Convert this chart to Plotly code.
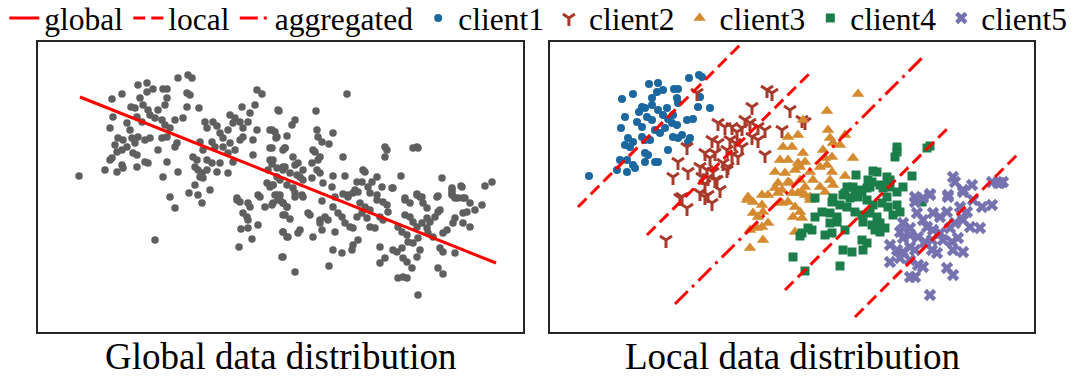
import plotly.graph_objects as go

# ---------------- data ----------------
global_pts = [
(79,176),(112,99),(122,94),(138,85),(147,83),(147,92),(153,89),(163,89),(167,89),(178,78),(188,75),(192,78),(187,93),(190,95),(140,98),(131,107),(135,108),(143,105),(148,110),(167,98),(165,105),(158,110),(187,107),(199,108),(113,117),(110,128),(127,123),(130,130),(137,117),(142,122),(150,115),(155,118),(162,120),(165,125),(170,128),(175,120),(183,118),(118,138),(115,145),(123,140),(127,147),(122,150),(132,138),(135,143),(138,137),(145,140),(150,138),(162,138),(167,137),(177,143),(175,147),(112,158),(110,160),(117,152),(133,153),(137,155),(158,150),(105,170),(117,172),(122,165),(123,168),(137,167),(145,162),(148,163),(167,162),(178,172),(163,177),(193,157),(197,160),(195,167),(198,170),(202,173),(203,178),(200,177),(205,122),(213,122),(207,128),(217,126),(220,133),(223,138),(228,130),(230,115),(235,118),(233,123),(240,122),(243,128),(248,122),(242,107),(250,113),(257,90),(262,94),(255,105),(257,130),(253,140),(200,142),(203,150),(212,142),(215,147),(223,147),(228,153),(230,143),(235,150),(240,140),(243,137),(233,162),(220,163),(207,160),(212,163),(228,173),(217,172),(207,170),(253,155),(195,185),(210,190),(189,193),(198,195),(170,197),(270,130),(277,137),(278,110),(270,148),(273,160),(268,170),(277,168),(283,167),(267,183),(270,187),(258,195),(277,195),(237,198),(285,148),
(175,208),(155,240),(202,203),(237,200),(240,202),(248,203),(250,207),(243,213),(247,217),(248,220),(241,229),(248,228),(258,225),(252,239),(239,247),(260,197),(273,185),(265,207),(272,205),(278,200),(283,203),(287,207),(285,215),(283,232),(287,237),(282,257),
(347,94),(279,111),(316,111),(295,120),(292,125),(272,130),(275,132),(276,138),(287,136),(317,130),(333,133),(318,137),(322,142),(329,144),(272,148),(285,148),(283,150),(313,150),(315,152),(320,157),(318,160),(312,163),(293,157),(295,165),(298,163),(343,157),(270,160),(272,164),(285,167),(283,170),(303,170),(317,170),(320,173),(290,173),(297,175),(300,177),(303,180),(312,178),(280,180),(277,177),(273,185),(287,185),(293,188),(323,183),(333,176),(332,187),(345,176),(280,195),(295,197),(302,195),(335,197),(343,194),(348,197),(355,190),(357,182),(362,182),(363,170),(365,172),(368,187),(372,182),(377,177),(370,193),(377,195),(382,187),(393,188),(385,147),(387,150),(385,157),(401,176),(413,148),(417,147),(418,148),(405,198),(417,194),(420,197),(442,178),(438,196),(452,188),(452,195),(461,186),(458,198),(463,198),(485,186),(492,182),
(283,257),(295,272),(329,266),(333,250),(342,253),(352,250),(353,245),(358,240),(313,237),(322,230),(320,223),(335,232),(283,232),(288,237),(300,230),(298,233),(308,213),(310,215),(283,215),(290,219),(280,200),(283,203),(287,207),(273,203),(275,195),(295,193),(303,197),(322,201),(320,220),(325,217),(328,220),(333,207),(338,213),(342,217),(345,223),(350,227),(353,228),(348,195),(353,193),(358,192),(360,203),(365,207),(370,210),(357,217),(362,213),(367,218),(370,227),(375,228),(380,217),(383,220),(388,212),(377,200),(383,202),(387,205),(392,188),(380,247),(380,263),(385,258),(393,250),(397,252),(402,248),(403,258),(407,262),(398,278),(403,277),(407,278),(412,268),(418,295),(405,215),(410,217),(398,227),(402,232),(407,235),(408,242),(413,243),(418,238),(417,257),(420,250),(413,222),(417,227),(422,223),(417,195),(422,197),(405,200),(410,203),(423,203),(427,208),(427,218),(430,222),(435,217),(427,228),(428,233),(433,237),(438,212),(440,210),(437,197),(438,268),(443,274),(440,248),(443,252),(452,193),(452,190),(453,223),(455,218),(455,253),(447,230),(443,233),(463,213),(467,212),(463,223),(470,227),(470,203),(475,210),(465,198),(482,205),(462,187),(455,198)
]

client1_pts = [(589,176),(622,99),(633,94),(649,84),(658,83),(657,92),(663,90),(674,89),(678,89),(689,78),(699,75),(702,77),(700,97),(652,98),(642,107),(645,108),(652,105),(658,110),(677,98),(678,103),(698,107),(710,108),(625,117),(621,128),(637,122),(642,127),(647,117),(652,120),(663,115),(668,119),(673,115),(687,120),(693,119),(628,138),(633,142),(625,145),(630,147),(642,137),(645,140),(650,140),(655,130),(660,133),(665,128),(673,137),(678,138),(682,135),(690,138),(688,142),(645,153),(648,155),(668,150),(620,160),(627,160),(633,165),(635,168),(645,162),(655,162),(658,162),(627,172),(617,170),(672,123),(677,125),(667,108),(639,112)]

client2_pts = [(697,93),(767,90),(772,93),(752,107),(790,110),(802,120),(805,122),(718,123),(725,127),(732,127),(737,132),(742,128),(745,120),(750,123),(758,127),(765,130),(782,130),(712,140),(718,143),(730,140),(735,143),(742,147),(752,137),(758,140),(705,153),(710,158),(715,153),(727,150),(732,155),(738,157),(687,147),(700,167),(707,170),(713,172),(723,163),(728,167),(765,155),(678,162),(673,177),(688,172),(702,177),(708,178),(715,180),(727,170),(720,190),(700,193),(705,197),(682,197),(705,184),(708,195),(712,203),(680,198),(687,208),(666,240),(717,180)]

client3_pts = [(858,94),(827,111),(828,130),(830,138),(823,150),(833,143),(840,145),(845,135),(853,158),(825,158),(832,157),(803,153),(805,162),(800,167),(820,167),(827,165),(832,172),(810,172),(813,180),(830,180),(833,185),(845,176),(800,180),(805,187),(820,187),(825,192),(802,193),(810,197),(788,137),(798,135),(803,120),(783,147),(792,147),(780,160),(788,160),(798,163),(775,172),(785,173),(795,170),(778,183),(790,183),(748,197),(762,195),(778,193),(792,193),(747,200),(753,202),(762,205),(768,195),(775,188),(782,190),(753,213),(758,217),(763,212),(768,223),(762,227),(750,230),(757,228),(763,240),(750,248),(782,203),(788,202),(795,207),(800,212),(793,217),(802,218),(795,232),(788,182),(798,193),(805,195),(810,200)]

client4_pts = [(897,147),(897,152),(895,157),(927,148),(930,146),(873,171),(877,172),(856,175),(887,177),(890,180),(912,176),(868,180),(870,187),(880,185),(883,188),(847,187),(845,193),(855,193),(862,192),(833,198),(890,187),(897,192),(887,197),(903,187),(872,182),(888,185),(853,187),(860,190),(867,188),(843,195),(850,198),(858,197),(832,202),(840,205),(847,207),(815,198),(822,212),(830,213),(837,217),(867,200),(873,205),(882,203),(888,207),(897,205),(900,212),(893,215),(855,212),(862,215),(870,213),(877,217),(830,223),(837,222),(845,230),(863,222),(872,225),(880,223),(885,228),(875,230),(880,232),(825,235),(832,233),(802,233),(808,228),(862,240),(867,243),(843,250),(852,252),(863,250),(840,266),(805,271),(922,202),(800,236),(812,230),(793,257),(815,217)]

client5_pts = [(953,177),(972,185),(963,192),(998,183),(1003,182),(930,194),(915,197),(948,195),(1000,183),(992,182),(955,182),(963,190),(930,195),(923,198),(915,202),(948,197),(973,200),(982,207),(992,205),(960,207),(967,212),(933,213),(940,217),(947,212),(917,213),(923,220),(903,223),(910,228),(900,232),(927,227),(933,230),(940,233),(950,228),(955,223),(963,220),(970,227),(980,228),(918,237),(925,242),(932,240),(943,240),(952,242),(958,238),(890,245),(897,250),(903,252),(910,247),(915,250),(932,250),(937,253),(953,250),(963,252),(890,262),(900,258),(910,260),(918,265),(923,267),(910,277),(915,277),(947,268),(953,275),(930,295),(903,238),(910,235)]

global_line_x = [80, 496]
global_line_y = [97, 263]
local_lines = [([578, 743], [207, 42]), ([647, 813], [235, 70]),
               ([785, 950], [290, 126]), ([855, 1019], [317, 153])]
agg_line_x = [675, 923]
agg_line_y = [304, 57]

legend_names = ["global", "local", "aggregated", "client1", "client2", "client3", "client4", "client5"]
panel_titles = ["Global data distribution", "Local data distribution"]

# ---------------- styles ----------------
W, H = 1080, 379
FONT = "Liberation Serif"
RED = "#ff0000"
GRAY = "#5f5f5f"
client_colors = ["#1b679f", "#a83a2b", "#d58a30", "#1b7e4a", "#7672b0"]
client_symbols = ["circle", "y-down", "triangle-up", "square", "x"]
client_sizes = [8, 10, 11, 9, 11]

fig = go.Figure()

def xy(pts):
    return [p[0] for p in pts], [p[1] for p in pts]

gx, gy = xy(global_pts)
fig.add_trace(go.Scatter(x=gx, y=gy, mode="markers", xaxis="x", yaxis="y",
                         marker=dict(color=GRAY, size=7.5), showlegend=False, hoverinfo="skip"))

for i, pts in enumerate([client1_pts, client2_pts, client3_pts, client4_pts, client5_pts]):
    cx, cy = xy(pts)
    sym = client_symbols[i]
    mk = dict(color=client_colors[i], size=client_sizes[i], symbol=sym)
    if sym == "y-down":
        mk["line"] = dict(color=client_colors[i], width=3)
    else:
        mk["line"] = dict(width=0)
    fig.add_trace(go.Scatter(x=cx, y=cy, mode="markers", xaxis="x2", yaxis="y2",
                             marker=mk, name=legend_names[3 + i], legendrank=4 + i))

fig.add_trace(go.Scatter(x=global_line_x, y=global_line_y, mode="lines", xaxis="x", yaxis="y",
                         line=dict(color=RED, width=3), name="global", legendrank=1))

lx, ly = [], []
for xs, ys in local_lines:
    lx += xs + [None]
    ly += ys + [None]
fig.add_trace(go.Scatter(x=lx, y=ly, mode="lines", xaxis="x2", yaxis="y2",
                         line=dict(color=RED, width=3, dash="12px,6px"), name="local", legendrank=2))
fig.add_trace(go.Scatter(x=agg_line_x, y=agg_line_y, mode="lines", xaxis="x2", yaxis="y2",
                         line=dict(color=RED, width=3, dash="18px,6px,3px,6px"),
                         name="aggregated", legendrank=3))

ax_common = dict(showticklabels=False, ticks="", showgrid=False, zeroline=False,
                 showline=True, linecolor="#262626", linewidth=2, mirror=True)
y_dom = [1 - 332 / H, 1 - 42 / H]
fig.update_layout(
    width=W, height=H, margin=dict(l=0, r=0, t=0, b=0, autoexpand=False),
    paper_bgcolor="white", plot_bgcolor="white",
    font=dict(family=FONT, color="black"),
    xaxis=dict(domain=[38 / W, 523 / W], range=[38, 523], **ax_common),
    yaxis=dict(domain=y_dom, range=[332, 42], **ax_common),
    xaxis2=dict(domain=[550 / W, 1034 / W], range=[550, 1034], anchor="y2", **ax_common),
    yaxis2=dict(domain=y_dom, range=[332, 42], anchor="x2", **ax_common),
    legend=dict(orientation="h", x=0.004, xanchor="left", y=1 + 9 / H, yanchor="top",
                font=dict(family=FONT, size=31.5, color="black"),
                bgcolor="rgba(0,0,0,0)", itemwidth=30, tracegroupgap=0),
    showlegend=True,
)

for i, t in enumerate(panel_titles):
    xc = (38 + 523) / 2 / W if i == 0 else (550 + 1034) / 2 / W
    fig.add_annotation(text=t, x=xc, y=1 - 356 / H, xref="paper", yref="paper",
                       showarrow=False, xanchor="center", yanchor="middle",
                       font=dict(family=FONT, size=37, color="black"))

fig.write_html("out.html", config={"displayModeBar": False},
               post_script="document.body.style.margin='0px';")
